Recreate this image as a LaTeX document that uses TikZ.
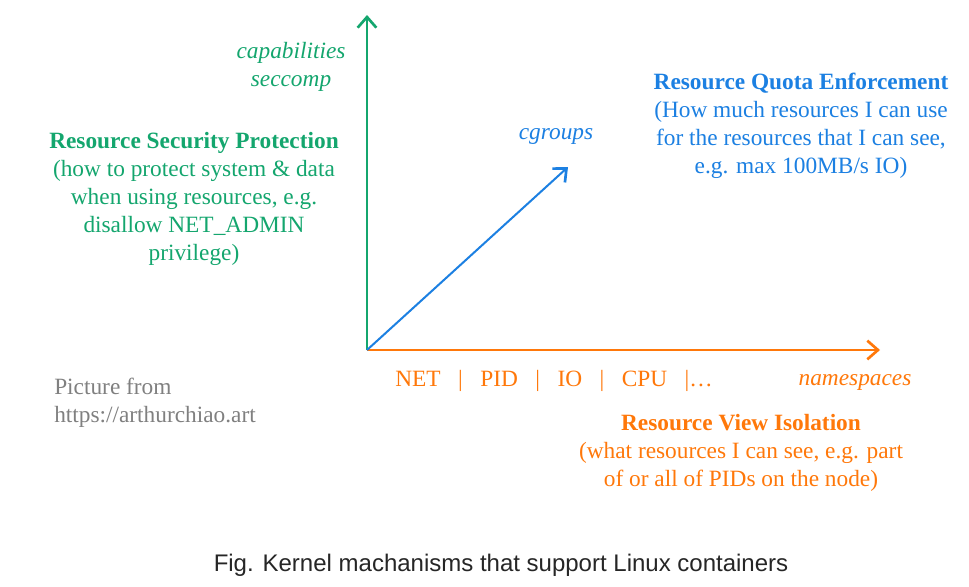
\documentclass[tikz,border=0pt]{standalone}
\usepackage{fontspec}
\setmainfont{Liberation Serif}
\newfontfamily\captionfont{Liberation Sans}
\usetikzlibrary{arrows.meta, positioning}

\definecolor{secgreen}{RGB}{20,166,110}
\definecolor{quotablue}{RGB}{28,128,226}
\definecolor{vieworange}{RGB}{255,120,10}
\definecolor{srcgray}{RGB}{128,128,128}

\tikzset{
  axis/.style={line width=2pt, -{Straight Barb[length=8pt, width=14pt, line width=2pt]}},
  txt/.style={font=\fontsize{17.5}{21}\selectfont, align=center, inner sep=0pt},
  mech/.style={txt, font=\fontsize{17.5}{21}\selectfont\itshape},
}

\begin{document}
\begin{tikzpicture}[x=0.75pt, y=-0.75pt, >=latex]
\useasboundingbox[fill=white] (0,0) rectangle (969,586);

% origin and axis ends
\coordinate (origin) at (367,350);
\coordinate (sec-end) at (367,15);
\coordinate (view-end) at (880,350);
\coordinate (quota-end) at (568,167);

% the three axes
\draw[axis, secgreen] (origin) -- (sec-end);
\draw[axis, vieworange] (origin) -- (view-end);
\draw[axis, quotablue, line width=1.5pt] (origin) -- (quota-end);

% security axis labels
\node[mech, text=secgreen] (capabilities) at (291,53) {capabilities};
\node[mech, text=secgreen, anchor=base] (seccomp) at ([yshift=-21pt]capabilities.base) {seccomp};
\node[txt, text=secgreen] (security) at (194,199) {%
  \textbf{Resource Security Protection}\\
  (how to protect system \& data\\
  when using resources, e.g.\\
  disallow NET\_ADMIN\\
  privilege)};

% quota axis labels
\node[mech, text=quotablue] (cgroups) at (556,136) {cgroups};
\node[txt, text=quotablue] (quota) at (801,126) {%
  \textbf{Resource Quota Enforcement}\\
  (How much resources I can use\\
  for the resources that I can see,\\
  e.g. max 100MB/s IO)};

% view axis labels
\node[txt, text=vieworange, anchor=west] (nslist) at (395,381) {NET~~~|~~~PID~~~|~~~IO~~~|~~~CPU~~~|\dots};
\node[mech, text=vieworange] (namespaces) at (855,382) {namespaces};
\node[txt, text=vieworange] (view) at (741,453) {%
  \textbf{Resource View Isolation}\\
  (what resources I can see, e.g. part\\
  of or all of PIDs on the node)};

% source and caption
\node[txt, text=srcgray, align=left, anchor=west] (source) at (54,403) {%
  Picture from\\
  https://arthurchiao.art};
\node[font=\captionfont\fontsize{18}{21}\selectfont, text=black!85, inner sep=0pt] (caption) at (501,565) {Fig. Kernel machanisms that support Linux containers};

\end{tikzpicture}
\end{document}
